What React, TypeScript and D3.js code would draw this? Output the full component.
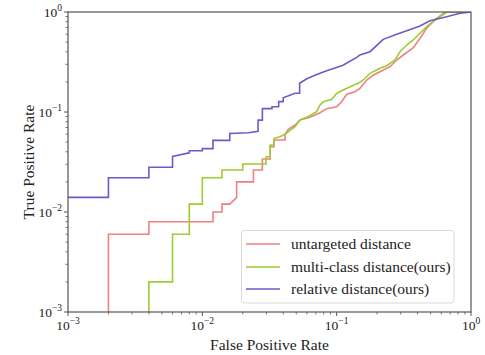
import React from "react";
import * as d3 from "d3";

const seriesNames = ["untargeted distance", "multi-class distance(ours)", "relative distance(ours)"];
const seriesColors = ["#f08080", "#9acd32", "#6a5acd"];

// untargeted distance
const fprUntargeted = [0.002, 0.002, 0.004, 0.004, 0.012, 0.012, 0.014, 0.014, 0.016, 0.018, 0.018, 0.024, 0.024, 0.028, 0.028, 0.032, 0.032, 0.0342, 0.0342, 0.0413, 0.0413, 0.0437, 0.049, 0.0533, 0.0633, 0.0752, 0.0843, 0.1001, 0.109, 0.1188, 0.1369, 0.1492, 0.1673, 0.1875, 0.2102, 0.2495, 0.28, 0.3133, 0.3721, 0.4174, 0.4677, 0.5555, 0.64, 1];
const tprUntargeted = [0.0001, 0.006, 0.006, 0.008, 0.008, 0.010, 0.010, 0.012, 0.012, 0.0139, 0.020, 0.020, 0.0263, 0.0263, 0.0339, 0.0339, 0.045, 0.045, 0.0525, 0.0525, 0.0598, 0.0671, 0.0741, 0.0832, 0.0885, 0.0984, 0.108, 0.113, 0.1268, 0.1503, 0.1596, 0.1726, 0.209, 0.2344, 0.253, 0.2838, 0.3311, 0.3715, 0.4395, 0.5458, 0.6871, 0.865, 0.993, 1];

// multi-class distance(ours)
const fprMulti = [0.004, 0.004, 0.006, 0.006, 0.008, 0.008, 0.01, 0.01, 0.014, 0.014, 0.02, 0.02, 0.0298, 0.0298, 0.032, 0.032, 0.0342, 0.0342, 0.0379, 0.0413, 0.0437, 0.049, 0.0533, 0.0598, 0.071, 0.0752, 0.0796, 0.0919, 0.1001, 0.112, 0.1257, 0.1449, 0.1578, 0.177, 0.2102, 0.2358, 0.2718, 0.2961, 0.3322, 0.3721, 0.4174, 0.4677, 0.5397, 0.6592, 1];
const tprMulti = [0.0001, 0.002, 0.002, 0.006, 0.006, 0.012, 0.012, 0.022, 0.022, 0.0263, 0.0263, 0.0302, 0.0302, 0.0357, 0.0357, 0.0468, 0.0468, 0.0546, 0.0566, 0.0598, 0.0635, 0.0713, 0.0832, 0.0885, 0.1007, 0.1175, 0.1268, 0.134, 0.1538, 0.166, 0.179, 0.1936, 0.209, 0.2438, 0.2735, 0.2904, 0.3311, 0.401, 0.4677, 0.5248, 0.6124, 0.7129, 0.8318, 0.993, 1];

// relative distance(ours)
const fprRelative = [0.001, 0.002, 0.002, 0.004, 0.004, 0.006, 0.006, 0.008, 0.008, 0.01, 0.01, 0.012, 0.012, 0.016, 0.016, 0.022, 0.026, 0.026, 0.028, 0.028, 0.033, 0.033, 0.037, 0.037, 0.04, 0.04, 0.049, 0.053, 0.053, 0.06, 0.0667, 0.0843, 0.1115, 0.141, 0.149, 0.177, 0.222, 0.28, 0.332, 0.417, 0.495, 0.659, 0.828, 1];
const tprRelative = [0.014, 0.014, 0.022, 0.022, 0.028, 0.028, 0.036, 0.039, 0.041, 0.041, 0.043, 0.043, 0.052, 0.052, 0.061, 0.062, 0.064, 0.083, 0.083, 0.108, 0.108, 0.113, 0.113, 0.127, 0.127, 0.139, 0.154, 0.154, 0.194, 0.215, 0.229, 0.259, 0.293, 0.352, 0.372, 0.401, 0.533, 0.598, 0.65, 0.724, 0.818, 0.898, 0.97, 1];

const majorTicks = [1e-3, 1e-2, 1e-1, 1];
const majorTickExponents = ["\u22123", "\u22122", "\u22121", "0"];

const xLabel = "False Positive Rate";
const yLabel = "True Positive Rate";

const W = 485, H = 355;
const M = { left: 68, right: 471, top: 12, bottom: 312 };
const FONT = "'Liberation Serif', 'DejaVu Serif', serif";

export default function App() {
  const x = d3.scaleLog().domain([1e-3, 1]).range([M.left, M.right]);
  const y = d3.scaleLog().domain([1e-3, 1]).range([M.bottom, M.top]);

  const series = [
    { fpr: fprUntargeted, tpr: tprUntargeted },
    { fpr: fprMulti, tpr: tprMulti },
    { fpr: fprRelative, tpr: tprRelative },
  ];

  const line = d3
    .line<[number, number]>()
    .x((d) => x(d[0]))
    .y((d) => y(d[1]));

  const minor: number[] = [];
  for (let e = -3; e < 0; e++) {
    for (let k = 2; k <= 9; k++) minor.push(k * Math.pow(10, e));
  }

  const axisColor = "#555";

  const legendX = 241.5, legendY = 230.5, legendW = 212.5, legendH = 72.5;
  const rowYs = [244, 267, 289];

  return (
    <svg
      width={W}
      height={H}
      style={{ position: "absolute", left: 0, top: 0, background: "#fff" }}
      fontFamily={FONT}
    >
      <defs>
        <clipPath id="plotclip">
          <rect x={M.left} y={M.top} width={M.right - M.left} height={M.bottom - M.top} />
        </clipPath>
      </defs>
      <rect x={0} y={0} width={W} height={H} fill="#fff" />

      <g clipPath="url(#plotclip)">
        {series.map((s, i) => {
          const pts = s.fpr.map((f, j) => [f, s.tpr[j]] as [number, number]);
          return (
            <path
              key={i}
              d={line(pts) || ""}
              fill="none"
              stroke={seriesColors[i]}
              strokeWidth={1.6}
              strokeLinejoin="miter"
            />
          );
        })}
      </g>

      {/* spines */}
      <rect
        x={M.left}
        y={M.top}
        width={M.right - M.left}
        height={M.bottom - M.top}
        fill="none"
        stroke={axisColor}
        strokeWidth={1.2}
      />

      {/* x ticks */}
      {majorTicks.map((t, i) => (
        <g key={"xm" + i}>
          <line x1={x(t)} x2={x(t)} y1={M.bottom} y2={M.bottom + 4} stroke={axisColor} strokeWidth={1} />
          <text x={x(t)} y={M.bottom + 17.5} textAnchor="middle" fontSize={13.5} fill="#222">
            <tspan>10</tspan>
            <tspan dy={-6} fontSize={9.5}>{majorTickExponents[i]}</tspan>
          </text>
        </g>
      ))}
      {minor.map((t, i) => (
        <line key={"xn" + i} x1={x(t)} x2={x(t)} y1={M.bottom} y2={M.bottom + 2.5} stroke={axisColor} strokeWidth={0.8} />
      ))}

      {/* y ticks */}
      {majorTicks.map((t, i) => (
        <g key={"ym" + i}>
          <line x1={M.left - 4} x2={M.left} y1={y(t)} y2={y(t)} stroke={axisColor} strokeWidth={1} />
          <text x={M.left - 6} y={y(t) + 5} textAnchor="end" fontSize={13.5} fill="#222">
            <tspan>10</tspan>
            <tspan dy={-6} fontSize={9.5}>{majorTickExponents[i]}</tspan>
          </text>
        </g>
      ))}
      {minor.map((t, i) => (
        <line key={"yn" + i} x1={M.left - 2.5} x2={M.left} y1={y(t)} y2={y(t)} stroke={axisColor} strokeWidth={0.8} />
      ))}

      {/* axis labels */}
      <text x={(M.left + M.right) / 2} y={350} textAnchor="middle" fontSize={15.5} fill="#222">
        {xLabel}
      </text>
      <text
        transform={`translate(34, ${(M.top + M.bottom) / 2}) rotate(-90)`}
        textAnchor="middle"
        fontSize={15.5}
        fill="#222"
      >
        {yLabel}
      </text>

      {/* legend */}
      <rect
        x={legendX}
        y={legendY}
        width={legendW}
        height={legendH}
        rx={3}
        fill="#fff"
        fillOpacity={0.8}
        stroke="#d9d9d9"
        strokeWidth={1}
      />
      {seriesNames.map((n, i) => (
        <g key={"lg" + i}>
          <line x1={246} x2={280} y1={rowYs[i]} y2={rowYs[i]} stroke={seriesColors[i]} strokeWidth={1.6} />
          <text x={291} y={rowYs[i] + 5} fontSize={15.5} fill="#222">
            {n}
          </text>
        </g>
      ))}
    </svg>
  );
}
